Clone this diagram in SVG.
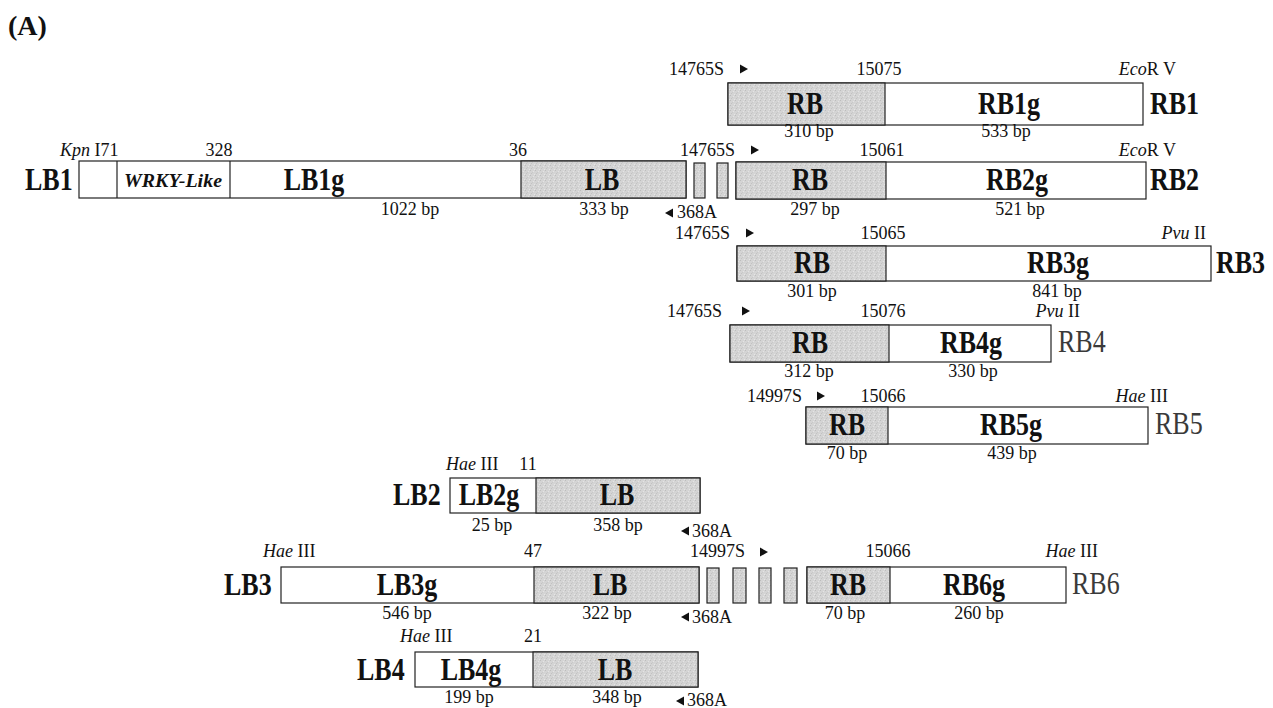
<svg xmlns="http://www.w3.org/2000/svg" width="1273" height="708" viewBox="0 0 1273 708">
<style>
text{font-family:"Liberation Serif","Times New Roman",serif;fill:#111}
.n{font-size:18px}
.c{text-anchor:middle}
.e{text-anchor:end}
.i{font-style:italic}
.b{font-size:26px;font-weight:bold}
.r{font-size:26px;fill:#3a3a3a}
.w{fill:#fff;stroke:#222;stroke-width:1.2}
.g{fill:url(#stip);stroke:#222;stroke-width:1.2}
.t{fill:#111}
</style>
<defs>
<pattern id="stip" width="5" height="5" patternUnits="userSpaceOnUse">
<rect width="5" height="5" fill="#d4d4d4"/>
<rect x="0" y="0" width="1" height="1" fill="#bdbdbd"/>
<rect x="3" y="1" width="1" height="1" fill="#e4e4e4"/>
<rect x="1" y="3" width="1" height="1" fill="#c2c2c2"/>
<rect x="4" y="4" width="1" height="1" fill="#e6e6e6"/>
<rect x="2" y="2" width="1" height="1" fill="#c8c8c8"/>
</pattern>
<path id="pr" d="M0,-4.5 L8,0 L0,4.5 Z"/>
<path id="pl" d="M0,0 L8,-4.5 L8,4.5 Z"/>
</defs>
<rect width="1273" height="708" fill="#fff"/>
<text x="8" y="35" style="font-size:28px;font-weight:bold">(A)</text>

<g id="RB1">
<text class="n e" x="724" y="75">14765S</text>
<use href="#pr" x="740" y="69" class="t"/>
<text class="n c" x="879" y="75">15075</text>
<text class="n e" x="1176" y="75"><tspan class="i">Eco</tspan>R V</text>
<rect class="w" x="728" y="83" width="415" height="42"/>
<rect class="g" x="728" y="83" width="157" height="42"/>
<text class="b c" transform="translate(805,114) scale(1,1.2)">RB</text>
<text class="b c" transform="translate(1009,114) scale(1,1.2)">RB1g</text>
<text class="b" transform="translate(1150,114) scale(1,1.2)">RB1</text>
<text class="n c" x="809" y="137">310 bp</text>
<text class="n c" x="1006" y="137">533 bp</text>
</g>

<g id="LB1">
<text class="n" x="60" y="156"><tspan class="i">Kpn</tspan> I71</text>
<text class="n c" x="219" y="156">328</text>
<text class="n c" x="518" y="156">36</text>
<text class="b" transform="translate(25,190) scale(1,1.2)">LB1</text>
<rect class="w" x="79" y="161" width="607" height="37"/>
<line x1="117" y1="161" x2="117" y2="198" stroke="#222" stroke-width="1.2"/>
<line x1="230" y1="161" x2="230" y2="198" stroke="#222" stroke-width="1.2"/>
<rect class="g" x="521" y="161" width="165" height="37"/>
<text class="c" x="173" y="187" textLength="98" lengthAdjust="spacingAndGlyphs" style="font-size:19px;font-weight:bold;font-style:italic">WRKY-Like</text>
<text class="b c" transform="translate(314,190) scale(1,1.2)">LB1g</text>
<text class="b c" transform="translate(602,190) scale(1,1.2)">LB</text>
<rect class="g" x="694" y="163" width="11" height="35"/>
<rect class="g" x="717" y="163" width="11" height="35"/>
<text class="n c" x="410" y="215">1022 bp</text>
<text class="n c" x="604" y="215">333 bp</text>
<use href="#pl" x="665" y="213" class="t"/>
<text class="n" x="677" y="218">368A</text>
</g>

<g id="RB2">
<text class="n e" x="735" y="156">14765S</text>
<use href="#pr" x="751" y="150" class="t"/>
<text class="n c" x="882" y="156">15061</text>
<text class="n e" x="1176" y="156"><tspan class="i">Eco</tspan>R V</text>
<rect class="w" x="736" y="162" width="410" height="37"/>
<rect class="g" x="736" y="162" width="150" height="37"/>
<text class="b c" transform="translate(810,190) scale(1,1.2)">RB</text>
<text class="b c" transform="translate(1017,190) scale(1,1.2)">RB2g</text>
<text class="b" transform="translate(1150,190) scale(1,1.2)">RB2</text>
<text class="n c" x="815" y="215">297 bp</text>
<text class="n c" x="1020" y="215">521 bp</text>
</g>

<g id="RB3">
<text class="n e" x="730" y="239">14765S</text>
<use href="#pr" x="746" y="233" class="t"/>
<text class="n c" x="883" y="239">15065</text>
<text class="n e" x="1206" y="239"><tspan class="i">Pvu</tspan> II</text>
<rect class="w" x="737" y="246" width="474" height="35"/>
<rect class="g" x="737" y="246" width="149" height="35"/>
<text class="b c" transform="translate(812,273) scale(1,1.2)">RB</text>
<text class="b c" transform="translate(1058,273) scale(1,1.2)">RB3g</text>
<text class="b" transform="translate(1216,273) scale(1,1.2)">RB3</text>
<text class="n c" x="812" y="297">301 bp</text>
<text class="n c" x="1057" y="297">841 bp</text>
</g>

<g id="RB4">
<text class="n e" x="722" y="317">14765S</text>
<use href="#pr" x="742" y="311" class="t"/>
<text class="n c" x="883" y="317">15076</text>
<text class="n e" x="1080" y="317"><tspan class="i">Pvu</tspan> II</text>
<rect class="w" x="730" y="325" width="321" height="37"/>
<rect class="g" x="730" y="325" width="159" height="37"/>
<text class="b c" transform="translate(810,353) scale(1,1.2)">RB</text>
<text class="b c" transform="translate(971,353) scale(1,1.2)">RB4g</text>
<text class="r" transform="translate(1058,352) scale(1,1.2)">RB4</text>
<text class="n c" x="809" y="377">312 bp</text>
<text class="n c" x="973" y="377">330 bp</text>
</g>

<g id="RB5">
<text class="n e" x="802" y="402">14997S</text>
<use href="#pr" x="817" y="396" class="t"/>
<text class="n c" x="883" y="402">15066</text>
<text class="n e" x="1168" y="402"><tspan class="i">Hae</tspan> III</text>
<rect class="w" x="806" y="407" width="342" height="37"/>
<rect class="g" x="806" y="407" width="82" height="37"/>
<text class="b c" transform="translate(847,435) scale(1,1.2)">RB</text>
<text class="b c" transform="translate(1011,435) scale(1,1.2)">RB5g</text>
<text class="r" transform="translate(1155,434) scale(1,1.2)">RB5</text>
<text class="n c" x="847" y="459">70 bp</text>
<text class="n c" x="1012" y="459">439 bp</text>
</g>

<g id="LB2">
<text class="n" x="446" y="470"><tspan class="i">Hae</tspan> III</text>
<text class="n c" x="528" y="470">11</text>
<text class="b" transform="translate(393,505) scale(1,1.2)">LB2</text>
<rect class="w" x="450" y="478" width="250" height="35"/>
<rect class="g" x="536" y="478" width="164" height="35"/>
<text class="b c" transform="translate(489,505) scale(1,1.2)">LB2g</text>
<text class="b c" transform="translate(617,505) scale(1,1.2)">LB</text>
<text class="n c" x="492" y="531">25 bp</text>
<text class="n c" x="618" y="531">358 bp</text>
<use href="#pl" x="681" y="531" class="t"/>
<text class="n" x="692" y="537">368A</text>
</g>

<g id="LB3">
<text class="n" x="263" y="557"><tspan class="i">Hae</tspan> III</text>
<text class="n c" x="533" y="557">47</text>
<text class="b" transform="translate(224,595) scale(1,1.2)">LB3</text>
<rect class="w" x="281" y="567" width="418" height="36"/>
<rect class="g" x="534" y="567" width="165" height="36"/>
<text class="b c" transform="translate(407,595) scale(1,1.2)">LB3g</text>
<text class="b c" transform="translate(610,595) scale(1,1.2)">LB</text>
<rect class="g" x="707" y="568" width="12" height="35"/>
<rect class="g" x="733" y="568" width="13" height="35"/>
<rect class="g" x="759" y="568" width="12" height="35"/>
<rect class="g" x="784" y="568" width="13" height="35"/>
<text class="n c" x="407" y="619">546 bp</text>
<text class="n c" x="607" y="619">322 bp</text>
<use href="#pl" x="681" y="617" class="t"/>
<text class="n" x="692" y="623">368A</text>
</g>

<g id="RB6">
<text class="n e" x="745" y="557">14997S</text>
<use href="#pr" x="760" y="552" class="t"/>
<text class="n c" x="888" y="557">15066</text>
<text class="n e" x="1098" y="557"><tspan class="i">Hae</tspan> III</text>
<rect class="w" x="807" y="567" width="259" height="36"/>
<rect class="g" x="807" y="567" width="83" height="36"/>
<text class="b c" transform="translate(848,595) scale(1,1.2)">RB</text>
<text class="b c" transform="translate(974,595) scale(1,1.2)">RB6g</text>
<text class="r" transform="translate(1072,594) scale(1,1.2)">RB6</text>
<text class="n c" x="845" y="619">70 bp</text>
<text class="n c" x="979" y="619">260 bp</text>
</g>

<g id="LB4">
<text class="n" x="400" y="642"><tspan class="i">Hae</tspan> III</text>
<text class="n c" x="533" y="642">21</text>
<text class="b" transform="translate(357,680) scale(1,1.2)">LB4</text>
<rect class="w" x="415" y="652" width="283" height="35"/>
<rect class="g" x="533" y="652" width="165" height="35"/>
<text class="b c" transform="translate(471,680) scale(1,1.2)">LB4g</text>
<text class="b c" transform="translate(615,680) scale(1,1.2)">LB</text>
<text class="n c" x="469" y="703">199 bp</text>
<text class="n c" x="617" y="703">348 bp</text>
<use href="#pl" x="676" y="701" class="t"/>
<text class="n" x="687" y="706">368A</text>
</g>

<g id="connectors"/>
</svg>
